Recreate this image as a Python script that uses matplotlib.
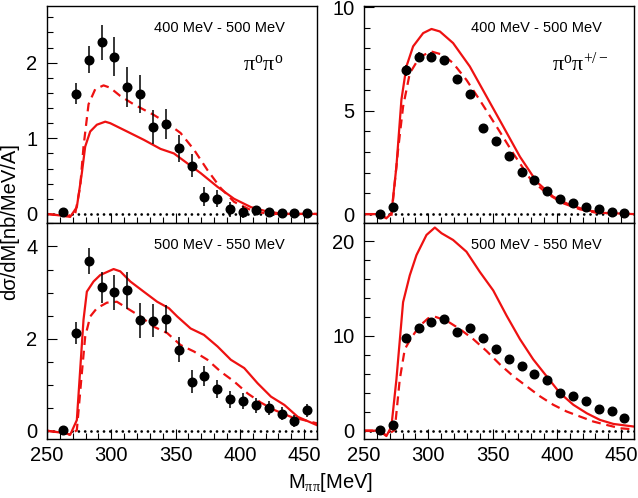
import numpy as np
import matplotlib
matplotlib.use("Agg")
import matplotlib.pyplot as plt
from matplotlib.ticker import MultipleLocator

plt.rcParams["font.family"] = ["Liberation Sans", "DejaVu Sans"]
plt.rcParams["mathtext.fontset"] = "custom"
plt.rcParams["mathtext.rm"] = "Liberation Serif"
plt.rcParams["mathtext.it"] = "Liberation Serif"

# data points (bin centres, MeV)
m_pts = [262.5 + 10 * i for i in range(20)]

# pi0 pi0, 400-500 MeV
y_00_lo = [0.02, 1.59, 2.04, 2.27, 2.08, 1.68, 1.59, 1.15, 1.19, 0.87,
           0.64, 0.23, 0.20, 0.06, 0.02, 0.05, 0.02, 0.01, 0.01, 0.01]
e_00_lo = [0.05, 0.14, 0.18, 0.23, 0.26, 0.26, 0.25, 0.23, 0.20, 0.18,
           0.15, 0.13, 0.11, 0.10, 0.08, 0.06, 0.05, 0.05, 0.04, 0.04]
# pi0 pi+-, 400-500 MeV
y_0c_lo = [0.0, 0.35, 6.94, 7.58, 7.61, 7.42, 6.52, 5.81, 4.16, 3.53,
           2.81, 2.03, 1.65, 1.11, 0.73, 0.55, 0.32, 0.23, 0.11, 0.03]
e_0c_lo = [0.05, 0.1, 0.25, 0.25, 0.22, 0.2, 0.15, 0.12, 0.1, 0.1,
           0.08, 0.08, 0.07, 0.06, 0.05, 0.05, 0.04, 0.04, 0.03, 0.03]
# pi0 pi0, 500-550 MeV
y_00_hi = [0.02, 2.12, 3.68, 3.11, 3.01, 3.05, 2.40, 2.39, 2.43, 1.76,
           1.06, 1.19, 0.90, 0.68, 0.64, 0.55, 0.49, 0.37, 0.22, 0.44]
e_00_hi = [0.05, 0.24, 0.28, 0.34, 0.38, 0.40, 0.38, 0.36, 0.31, 0.27,
           0.25, 0.22, 0.20, 0.19, 0.17, 0.16, 0.15, 0.14, 0.13, 0.15]
# pi0 pi+-, 500-550 MeV
y_0c_hi = [0.1, 0.6, 9.72, 10.78, 11.42, 11.77, 10.43, 10.82, 9.82, 8.65,
           7.52, 6.81, 5.99, 5.39, 3.94, 3.62, 3.16, 2.30, 2.06, 1.38]
e_0c_hi = [0.1, 0.2, 0.3, 0.3, 0.3, 0.3, 0.25, 0.25, 0.2, 0.2,
           0.2, 0.15, 0.15, 0.15, 0.12, 0.12, 0.1, 0.1, 0.1, 0.1]

# model curves
m_s00lo = [250, 265, 268, 273.2, 277.1, 279.7, 283.6, 288.8, 295.3, 299.2, 312.3,
           325.3, 338.3, 348.7, 359.1, 369.5, 382.5, 395.5, 408.6, 421.6, 434.4, 460]
s_00_lo = [0.0, -0.03, -0.04, 0.09, 0.54, 0.89, 1.09, 1.18, 1.22, 1.20, 1.09,
           0.98, 0.86, 0.80, 0.67, 0.54, 0.36, 0.20, 0.09, 0.03, 0.0, 0.0]
m_d00lo = [250, 265, 271.9, 275.8, 278.4, 282.3, 287.5, 294, 299, 307, 317.4, 333,
           343.5, 353.9, 364.3, 374.8, 385.2, 395.5, 408.6, 421.6, 460]
d_00_lo = [0.0, -0.03, 0.0, 0.36, 0.89, 1.45, 1.65, 1.70, 1.67, 1.56, 1.45, 1.31,
           1.20, 1.07, 0.85, 0.58, 0.34, 0.16, 0.05, 0.0, 0.0]

m_s0clo = [250, 262, 267.4, 271.3, 275.2, 279.1, 283, 288.2, 296, 302.5, 309, 319.3,
           332.3, 345.3, 358.3, 371.3, 384.3, 397.2, 410.2, 423.2, 436.2, 460]
s_0c_lo = [0.0, 0.0, -0.2, 0.03, 2.29, 5.52, 7.13, 8.1, 8.74, 8.94, 8.82, 8.26,
           7.13, 5.68, 4.23, 2.77, 1.56, 0.84, 0.44, 0.19, 0.06, 0.0]
m_d0clo = [250, 262, 267.4, 271.3, 276.5, 280.4, 285.6, 293.4, 302.5, 311.6, 319.3,
           329.7, 340.1, 353.1, 366.1, 379, 392, 405, 418, 431, 460]
d_0c_lo = [0.0, 0.0, -0.2, -0.1, 3.1, 5.19, 6.8, 7.6, 7.85, 7.69, 7.29,
           6.48, 5.5, 4.23, 2.93, 1.73, 1.0, 0.52, 0.23, 0.06, 0.0]

m_s00hi = [250, 265.4, 268, 273.2, 275.8, 278.4, 281, 286.2, 291.4, 301.8, 307, 314.8,
           325.2, 335.7, 344.8, 351.3, 361.7, 372.1, 382.6, 393, 403.4, 413.8,
           424.2, 434.6, 445.1, 460]
s_00_hi = [0.0, -0.06, -0.09, 0.23, 1.32, 2.41, 3.02, 3.24, 3.38, 3.51, 3.46, 3.24,
           3.02, 2.80, 2.66, 2.48, 2.22, 2.08, 1.83, 1.54, 1.36, 1.03,
           0.74, 0.56, 0.30, 0.12]
m_d00hi = [250, 265.4, 268, 273.2, 277.1, 279.7, 283.6, 288.8, 296.6, 304.4, 312.3,
           322.7, 333, 343.5, 353.9, 364.3, 374.8, 385.2, 395.5, 406, 416.4,
           426.8, 439.8, 460]
d_00_hi = [0.0, -0.06, -0.09, 0.01, 1.25, 2.04, 2.48, 2.66, 2.78, 2.80, 2.66,
           2.48, 2.26, 2.12, 1.86, 1.72, 1.54, 1.28, 1.07, 0.81, 0.61,
           0.45, 0.30, 0.16]

m_s0chi = [250, 262, 267.4, 271.3, 275.2, 280.4, 285.6, 290.8, 298.6, 305.1, 310.3,
           319.3, 329.7, 340.1, 350.5, 360.9, 371.3, 381.6, 392, 402.4, 412.8,
           423.2, 433.6, 443.9, 460]
s_0c_hi = [0.0, 0.0, -0.57, 0.43, 5.39, 13.55, 16.38, 18.51, 20.64, 21.42, 20.82,
           20.11, 18.87, 16.74, 14.79, 12.13, 9.65, 7.52, 5.74, 3.97, 2.73,
           1.84, 1.13, 0.71, 0.43]
m_d0chi = [250, 262, 267.4, 273.9, 277.8, 281.7, 286.9, 293.4, 299.8, 305.1, 314.2,
           324.6, 335, 345.3, 355.7, 366.1, 376.5, 386.9, 397.2, 407.6, 418,
           428.4, 438.8, 449.2, 460]
d_0c_hi = [0.0, 0.0, -0.5, 0.07, 5.39, 8.58, 9.82, 11.06, 11.84, 12.02, 11.6,
           10.71, 9.65, 8.4, 6.99, 5.74, 4.68, 3.62, 2.73, 2.02, 1.49,
           0.96, 0.6, 0.25, 0.14]

W, H = 638, 498
fig = plt.figure(figsize=(W / 100, H / 100), dpi=100)


def box(x0, y0, x1, y1):
    return [x0 / W, 1 - y1 / H, (x1 - x0) / W, (y1 - y0) / H]


panels = [
    dict(rect=box(47, 6, 317, 223), ylim=(-0.12, 2.75), major=1, minor=0.2,
         y=y_00_lo, e=e_00_lo, ms=(m_s00lo, s_00_lo), md=(m_d00lo, d_00_lo),
         label="400 MeV - 500 MeV", chan=r"$\mathrm{\pi^o\pi^o}$", xlab=False),
    dict(rect=box(364, 6, 634, 223), ylim=(-0.43, 10.05), major=5, minor=1,
         y=y_0c_lo, e=e_0c_lo, ms=(m_s0clo, s_0c_lo), md=(m_d0clo, d_0c_lo),
         label="400 MeV - 500 MeV", chan=r"$\mathrm{\pi^o\pi^{+/-}}$", xlab=False),
    dict(rect=box(47, 223, 317, 439), ylim=(-0.18, 4.51), major=2, minor=0.5,
         y=y_00_hi, e=e_00_hi, ms=(m_s00hi, s_00_hi), md=(m_d00hi, d_00_hi),
         label="500 MeV - 550 MeV", chan=None, xlab=True),
    dict(rect=box(364, 223, 634, 439), ylim=(-0.88, 21.9), major=10, minor=2,
         y=y_0c_hi, e=e_0c_hi, ms=(m_s0chi, s_0c_hi), md=(m_d0chi, d_0c_hi),
         label="500 MeV - 550 MeV", chan=None, xlab=True),
]

for p in panels:
    ax = fig.add_axes(p["rect"])
    ax.set_xlim(250, 460)
    ax.set_ylim(*p["ylim"])
    ax.axhline(0, color="k", lw=2.0, ls=(0, (0.01, 2.25)), dash_capstyle="round", zorder=1)
    ax.plot(*p["ms"], color="#ee1111", lw=1.6, zorder=2)
    ax.plot(*p["md"], color="#ee1111", lw=1.6, ls=(0, (4, 2.6)), zorder=2)
    ax.errorbar(m_pts, p["y"], yerr=p["e"], fmt="o", color="k", ms=6.2,
                elinewidth=1.1, capsize=0, zorder=3)
    ax.xaxis.set_major_locator(MultipleLocator(50))
    ax.xaxis.set_minor_locator(MultipleLocator(10))
    ax.yaxis.set_major_locator(MultipleLocator(p["major"]))
    ax.yaxis.set_minor_locator(MultipleLocator(p["minor"]))
    ax.tick_params(which="both", direction="in", top=False, right=False,
                   labelsize=14.5, width=0.8)
    ax.tick_params(which="major", length=7)
    ax.tick_params(which="minor", length=4)
    ax.tick_params(axis="x", which="major", pad=5)
    ax.tick_params(axis="y", which="major", pad=7)
    if not p["xlab"]:
        ax.tick_params(axis="x", labelbottom=False)
    ax.text(0.64, 0.9, p["label"], transform=ax.transAxes, ha="center",
            va="center", fontsize=10.5)
    if p["chan"]:
        ax.text(0.80, 0.73, p["chan"], transform=ax.transAxes, ha="center",
                va="center", fontsize=16)
    for s in ax.spines.values():
        s.set_linewidth(1.0)

fig.text(10 / W, 1 - 222 / H, "dσ/dM[nb/MeV/A]", rotation=90, ha="center",
         va="center", fontsize=14.5)
fig.text(330 / W, 1 - 482 / H, r"M$_{\pi\pi}$[MeV]", ha="center", va="center",
         fontsize=14.5)

fig.savefig("out.png", dpi=100)
